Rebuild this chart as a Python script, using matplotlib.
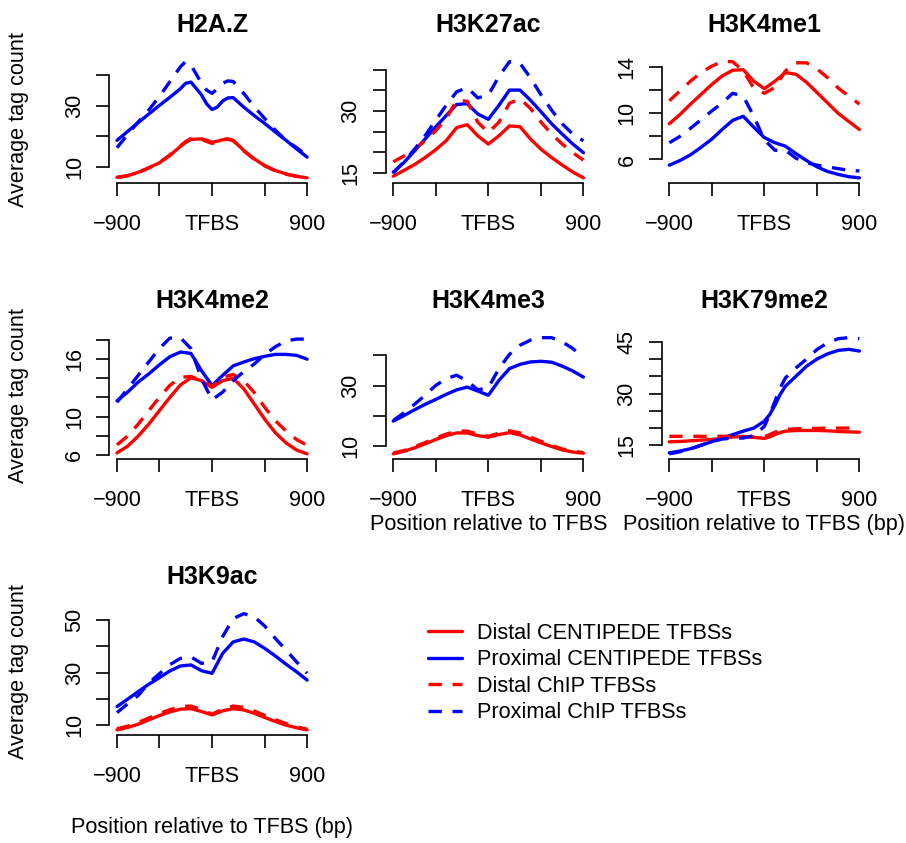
import matplotlib
matplotlib.use("Agg")
import matplotlib.pyplot as plt

# ---------------- data ----------------
panel_names = ["H2A.Z", "H3K27ac", "H3K4me1", "H3K4me2", "H3K4me3", "H3K79me2", "H3K9ac"]
series_labels = ["Distal CENTIPEDE TFBSs", "Proximal CENTIPEDE TFBSs",
                 "Distal ChIP TFBSs", "Proximal ChIP TFBSs"]

x_tick_pos = [-900, -500, 0, 500, 900]
x_tick_lab = ["\u2212900", "", "TFBS", "", "900"]

pos_100 = [-900, -800, -700, -600, -500, -400, -300, -200, -100, 0,
           100, 200, 300, 400, 500, 600, 700, 800, 900]
pos_h2az = [-900, -800, -700, -600, -500, -400, -300, -250, -200, -100, -50, 0,
            50, 100, 150, 200, 300, 400, 500, 600, 700, 800, 900]
pos_k79 = [-900, -800, -700, -600, -500, -400, -300, -200, -100, 0, 50, 100, 150,
           200, 300, 400, 500, 600, 700, 800, 900]

# H2A.Z
h2az_dist_cent = [6.5, 7.0, 8.1, 9.6, 11.2, 13.6, 16.6, 17.9, 18.9, 19.1, 18.6, 18.0,
                  18.3, 18.8, 18.9, 18.6, 15.3, 12.5, 10.3, 8.7, 7.6, 6.8, 6.3]
h2az_prox_cent = [18.6, 21.5, 24.4, 27.2, 30.0, 32.7, 35.5, 37.3, 37.7, 33.5, 30.5, 28.7,
                  29.5, 31.5, 32.5, 32.6, 29.5, 26.7, 24.1, 21.3, 18.6, 15.8, 13.1]
h2az_dist_chip = [6.4, 7.0, 8.0, 9.5, 11.3, 13.8, 16.8, 18.2, 19.2, 19.0, 18.2, 17.6,
                  18.0, 18.9, 19.1, 18.5, 15.1, 12.4, 10.2, 8.6, 7.5, 6.8, 6.3]
h2az_prox_chip = [16.2, 20.5, 24.6, 28.5, 32.9, 37.8, 42.7, 44.4, 43.3, 37.3, 35.0, 34.0,
                  35.5, 37.3, 38.1, 37.9, 34.0, 29.6, 25.7, 21.9, 18.6, 16.2, 13.6]

# H3K27ac
k27ac_dist_cent = [14.2, 15.6, 17.0, 18.7, 20.6, 22.8, 26.0, 26.7, 24.0, 22.0,
                   24.0, 26.4, 26.2, 23.2, 20.7, 18.7, 16.9, 15.2, 13.8]
k27ac_prox_cent = [15.2, 17.5, 20.3, 23.2, 26.1, 28.9, 31.6, 31.8, 29.3, 28.0,
                   31.4, 35.1, 35.1, 32.6, 29.8, 26.9, 24.4, 22.0, 19.9]
k27ac_dist_chip = [17.7, 19.1, 20.7, 22.8, 25.2, 28.1, 32.6, 32.4, 27.3, 24.8,
                   27.3, 31.9, 33.0, 30.6, 27.3, 24.4, 22.0, 19.9, 18.1]
k27ac_prox_chip = [15.0, 17.7, 20.7, 24.0, 27.7, 31.4, 34.7, 35.7, 33.2, 33.9,
                   38.4, 42.0, 41.6, 38.0, 33.9, 30.2, 26.9, 24.4, 22.8]

# H3K4me1
k4me1_dist_cent = [9.1, 9.9, 10.8, 11.65, 12.5, 13.25, 13.75, 13.8, 12.8, 12.15,
                   12.8, 13.55, 13.4, 12.7, 11.8, 10.9, 10.0, 9.3, 8.6]
k4me1_prox_cent = [5.5, 5.9, 6.4, 7.05, 7.75, 8.6, 9.4, 9.75, 8.8, 7.9,
                   7.45, 7.15, 6.5, 5.9, 5.35, 4.95, 4.7, 4.5, 4.4]
k4me1_dist_chip = [11.1, 11.95, 12.8, 13.55, 14.1, 14.5, 14.5, 13.7, 12.2, 11.75,
                   12.25, 13.7, 14.4, 14.4, 13.85, 13.1, 12.2, 11.5, 10.8]
k4me1_prox_chip = [7.45, 8.0, 8.7, 9.45, 10.2, 10.9, 11.75, 11.5, 9.75, 7.7,
                   6.8, 6.8, 6.1, 5.7, 5.5, 5.35, 5.2, 5.05, 5.0]

# H3K4me2
k4me2_dist_cent = [6.2, 6.9, 7.95, 9.2, 10.6, 12.0, 13.3, 14.05, 13.75, 13.05,
                   13.75, 14.0, 12.9, 11.3, 9.7, 8.3, 7.25, 6.5, 6.1]
k4me2_prox_cent = [11.65, 12.55, 13.6, 14.45, 15.4, 16.25, 16.75, 16.6, 14.8, 13.25,
                   14.3, 15.3, 15.7, 16.05, 16.3, 16.5, 16.5, 16.4, 16.0]
k4me2_dist_chip = [7.05, 7.95, 9.2, 10.6, 12.0, 13.25, 14.1, 14.2, 13.75, 13.15,
                   14.1, 14.4, 13.75, 12.5, 10.95, 9.55, 8.5, 7.6, 7.0]
k4me2_prox_chip = [11.5, 12.9, 14.3, 15.7, 17.1, 18.2, 18.25, 17.1, 13.95, 11.75,
                   12.55, 13.75, 14.7, 15.5, 16.5, 17.3, 17.9, 18.1, 18.1]

# H3K4me3
k4me3_dist_cent = [7.5, 8.35, 9.45, 10.8, 12.2, 13.5, 14.4, 14.4, 13.5, 13.0,
                   13.85, 14.5, 13.75, 12.4, 11.1, 9.9, 8.8, 8.1, 7.7]
k4me3_prox_cent = [18.3, 20.1, 22.0, 23.8, 25.4, 27.1, 28.6, 29.5, 28.2, 26.8,
                   31.7, 35.6, 37.0, 37.8, 38.0, 37.7, 36.4, 34.8, 32.8]
k4me3_dist_chip = [7.8, 8.6, 9.8, 11.2, 12.7, 14.0, 15.0, 15.0, 14.0, 13.3,
                   14.3, 15.1, 14.4, 13.0, 11.6, 10.3, 9.1, 8.4, 7.9]
k4me3_prox_chip = [18.5, 21.0, 23.8, 26.8, 30.0, 32.3, 33.4, 31.5, 28.6, 29.3,
                   35.6, 40.3, 43.3, 45.0, 45.8, 45.8, 44.4, 42.2, 39.2]

# H3K79me2
k79_dist_cent = [16.0, 16.1, 16.3, 16.5, 16.7, 17.0, 17.4, 17.6, 17.3, 17.0, 17.4,
                 18.1, 18.7, 19.1, 19.3, 19.3, 19.3, 19.2, 19.0, 18.9, 18.8]
k79_prox_cent = [12.8, 13.3, 14.0, 15.0, 16.0, 17.1, 18.1, 19.1, 20.0, 22.0, 23.9,
                 26.6, 29.8, 32.2, 35.1, 38.0, 40.1, 41.6, 42.6, 42.9, 42.4]
k79_dist_chip = [17.6, 17.6, 17.6, 17.6, 17.6, 17.6, 17.6, 17.5, 17.4, 17.5, 18.1,
                 18.8, 19.3, 19.6, 19.8, 19.9, 19.9, 20.0, 20.0, 20.0, 19.9]
k79_prox_chip = [12.5, 13.1, 13.9, 15.0, 16.0, 16.8, 17.1, 17.1, 17.8, 20.5, 23.9,
                 27.8, 31.7, 34.6, 37.5, 40.1, 42.9, 44.8, 46.0, 46.3, 46.0]

# H3K9ac
k9ac_dist_cent = [8.1, 9.0, 10.25, 11.9, 13.55, 14.95, 16.0, 16.2, 15.1, 13.8,
                  15.35, 16.2, 15.7, 14.45, 12.8, 11.3, 9.9, 8.9, 8.1]
k9ac_prox_cent = [17.0, 19.8, 22.7, 25.5, 28.0, 30.6, 32.5, 32.9, 30.7, 29.7,
                  37.3, 41.7, 42.8, 41.7, 39.2, 36.3, 33.2, 30.3, 27.1]
k9ac_dist_chip = [8.5, 9.5, 10.9, 12.6, 14.3, 15.8, 17.0, 17.2, 15.8, 14.1,
                  16.0, 17.2, 16.7, 15.3, 13.6, 12.0, 10.5, 9.3, 8.35]
k9ac_prox_chip = [14.7, 18.0, 21.2, 26.0, 29.5, 33.0, 35.4, 36.0, 33.5, 34.1,
                  43.7, 50.6, 52.5, 51.3, 47.7, 43.0, 38.6, 34.1, 29.7]

y_ticks = [
    ([10, 20, 30, 40], ["10", "", "30", ""]),
    ([15, 20, 25, 30, 35, 40], ["15", "", "", "30", "", ""]),
    ([6, 8, 10, 12, 14], ["6", "", "10", "", "14"]),
    ([6, 8, 10, 12, 14, 16, 18], ["6", "", "10", "", "", "16", ""]),
    ([10, 20, 30, 40], ["10", "", "30", ""]),
    ([15, 20, 25, 30, 35, 40, 45], ["15", "", "", "30", "", "", "45"]),
    ([10, 20, 30, 40, 50], ["10", "", "30", "", "50"]),
]

panels = [
    (pos_h2az, h2az_dist_cent, h2az_prox_cent, h2az_dist_chip, h2az_prox_chip),
    (pos_100, k27ac_dist_cent, k27ac_prox_cent, k27ac_dist_chip, k27ac_prox_chip),
    (pos_100, k4me1_dist_cent, k4me1_prox_cent, k4me1_dist_chip, k4me1_prox_chip),
    (pos_100, k4me2_dist_cent, k4me2_prox_cent, k4me2_dist_chip, k4me2_prox_chip),
    (pos_100, k4me3_dist_cent, k4me3_prox_cent, k4me3_dist_chip, k4me3_prox_chip),
    (pos_k79, k79_dist_cent, k79_prox_cent, k79_dist_chip, k79_prox_chip),
    (pos_100, k9ac_dist_cent, k9ac_prox_cent, k9ac_dist_chip, k9ac_prox_chip),
]

# ---------------- layout / style ----------------
plt.rcParams['font.family'] = ['Liberation Sans', 'DejaVu Sans']
W, H, DPI = 906, 843, 100
fig = plt.figure(figsize=(W / DPI, H / DPI), dpi=DPI)

RED, BLUE = "#FF0000", "#0000FF"
styles = [(RED, "-"), (BLUE, "-"), (RED, "--"), (BLUE, "--")]
LW = 2.4
FS = 15.6
col_left = [109.4, 385.7, 661.7]
row_top = [57, 333, 609]
AW, AH = 205.3, 125.5


def rect(left, top):
    return [left / W, 1 - (top + AH) / H, AW / W, AH / H]


handles = []
for i, (name, (xs, *ser), (yt, ytl)) in enumerate(zip(panel_names, panels, y_ticks)):
    r, c = divmod(i, 3)
    ax = fig.add_axes(rect(col_left[c], row_top[r]))
    hs = []
    for (col, ls), ys, lab in zip(styles, ser, series_labels):
        ln, = ax.plot(xs, ys, color=col, lw=LW, label=lab,
                      linestyle=ls, dashes=(4, 3.2) if ls == "--" else (None, None),
                      solid_capstyle="round", solid_joinstyle="round",
                      dash_capstyle="butt", dash_joinstyle="round")
        hs.append(ln)
    handles = hs
    ax.margins(x=0.04, y=0.04)
    for s in ("top", "right"):
        ax.spines[s].set_visible(False)
    ax.spines["left"].set_bounds(yt[0], yt[-1])
    ax.spines["bottom"].set_bounds(-900, 900)
    for s in ("left", "bottom"):
        ax.spines[s].set_linewidth(1.2)
    ax.set_xticks(x_tick_pos)
    ax.set_xticklabels(x_tick_lab)
    ax.set_yticks(yt)
    ax.set_yticklabels(ytl, rotation=90, va="center", ha="right")
    ax.tick_params(axis="both", direction="out", length=9.5, width=1.2,
                   labelsize=FS, color="black")
    ax.tick_params(axis="x", pad=13)
    ax.tick_params(axis="y", pad=8)
    ax.set_title(name, fontsize=18, fontweight="bold", pad=18)
    if c == 0:
        fig.text(19 / W, 1 - (row_top[r] + AH / 2) / H, "Average tag count",
                 rotation=90, ha="center", va="center", fontsize=FS)

col_center = [(cl + AW / 2) / W for cl in col_left]
fig.text(col_center[0], 1 - 833 / H, "Position relative to TFBS (bp)",
         ha="center", va="baseline", fontsize=FS)
fig.text(col_center[1], 1 - 530 / H, "Position relative to TFBS",
         ha="center", va="baseline", fontsize=FS)
fig.text(col_center[2], 1 - 530 / H, "Position relative to TFBS (bp)",
         ha="center", va="baseline", fontsize=FS)

fig.legend(handles=handles, labels=series_labels, loc="upper left",
           bbox_to_anchor=(428 / W, 1 - 623 / H), frameon=False, fontsize=FS,
           borderpad=0, borderaxespad=0, handlelength=1.57, handletextpad=0.69,
           labelspacing=0.25)

fig.savefig("out.png", dpi=DPI)
